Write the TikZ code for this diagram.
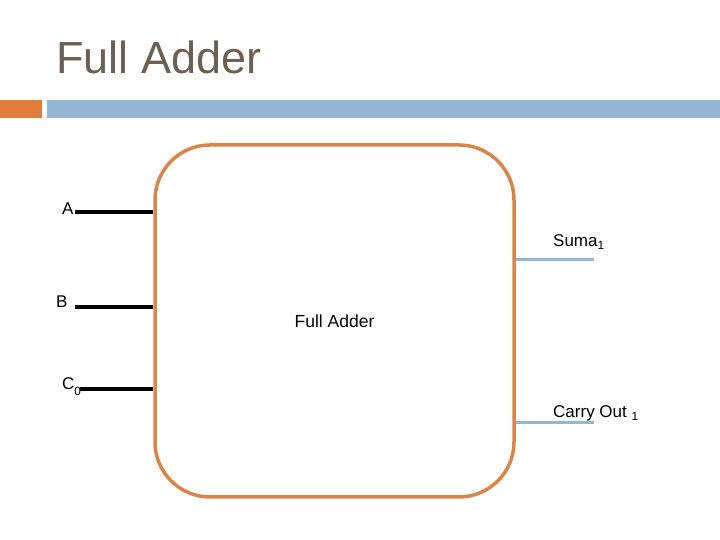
\documentclass[tikz,border=0pt]{standalone}
\usepackage{fontspec}
\setmainfont{Liberation Sans}
\usepackage{tikz}
\usetikzlibrary{positioning,calc}
\definecolor{titlecolor}{RGB}{110,95,85}
\definecolor{accentorange}{RGB}{224,124,60}
\definecolor{accentblue}{RGB}{148,182,210}
\definecolor{boxorange}{RGB}{216,133,76}

\begin{document}
\begin{tikzpicture}[
    x=1pt, y=1pt,
    adder/.style={rectangle, draw=boxorange, line width=3.5pt, rounded corners=55pt, minimum width=359pt, minimum height=352pt, font=\fontsize{17.5}{20}\selectfont},
    inwire/.style={line width=3.5pt, black},
    outwire/.style={line width=3pt, accentblue},
    pinlabel/.style={anchor=base west, inner sep=0pt, font=\fontsize{17}{20}\selectfont}
]
    \useasboundingbox (0,0) rectangle (720,540);
    % heading
    \node[anchor=base west, inner sep=0pt, text=titlecolor, font=\fontsize{45}{54}\selectfont] (title) at (56,466) {Full Adder};
    \fill[accentorange] (0,422) rectangle (42,440);
    \fill[accentblue] (47,422) rectangle (720,440);

    % the adder block
    \node[adder] (fa) at (334.5,219) {Full Adder};

    % inputs
    \coordinate (a) at (75,328);
    \coordinate (b) at (75,233);
    \coordinate (c) at (80,151);
    \draw[inwire] (a) -- (a -| fa.west);
    \draw[inwire] (b) -- (b -| fa.west);
    \draw[inwire] (c) -- (c -| fa.west);
    \node[pinlabel] (alabel) at (62,325) {A};
    \node[pinlabel] (blabel) at (56,232) {B};
    \node[pinlabel] (clabel) at (62,150) {C\textsubscript{\raisebox{-3pt}{0}}};

    % outputs
    \coordinate (s) at (594,280);
    \coordinate (co) at (594,117);
    \draw[outwire] (s -| fa.east) -- (s);
    \draw[outwire] (co -| fa.east) -- (co);
    \node[pinlabel] (slabel) at (553,293) {Suma\textsubscript{1}};
    \node[pinlabel] (colabel) at (553,122) {Carry Out \textsubscript{1}};
\end{tikzpicture}
\end{document}
